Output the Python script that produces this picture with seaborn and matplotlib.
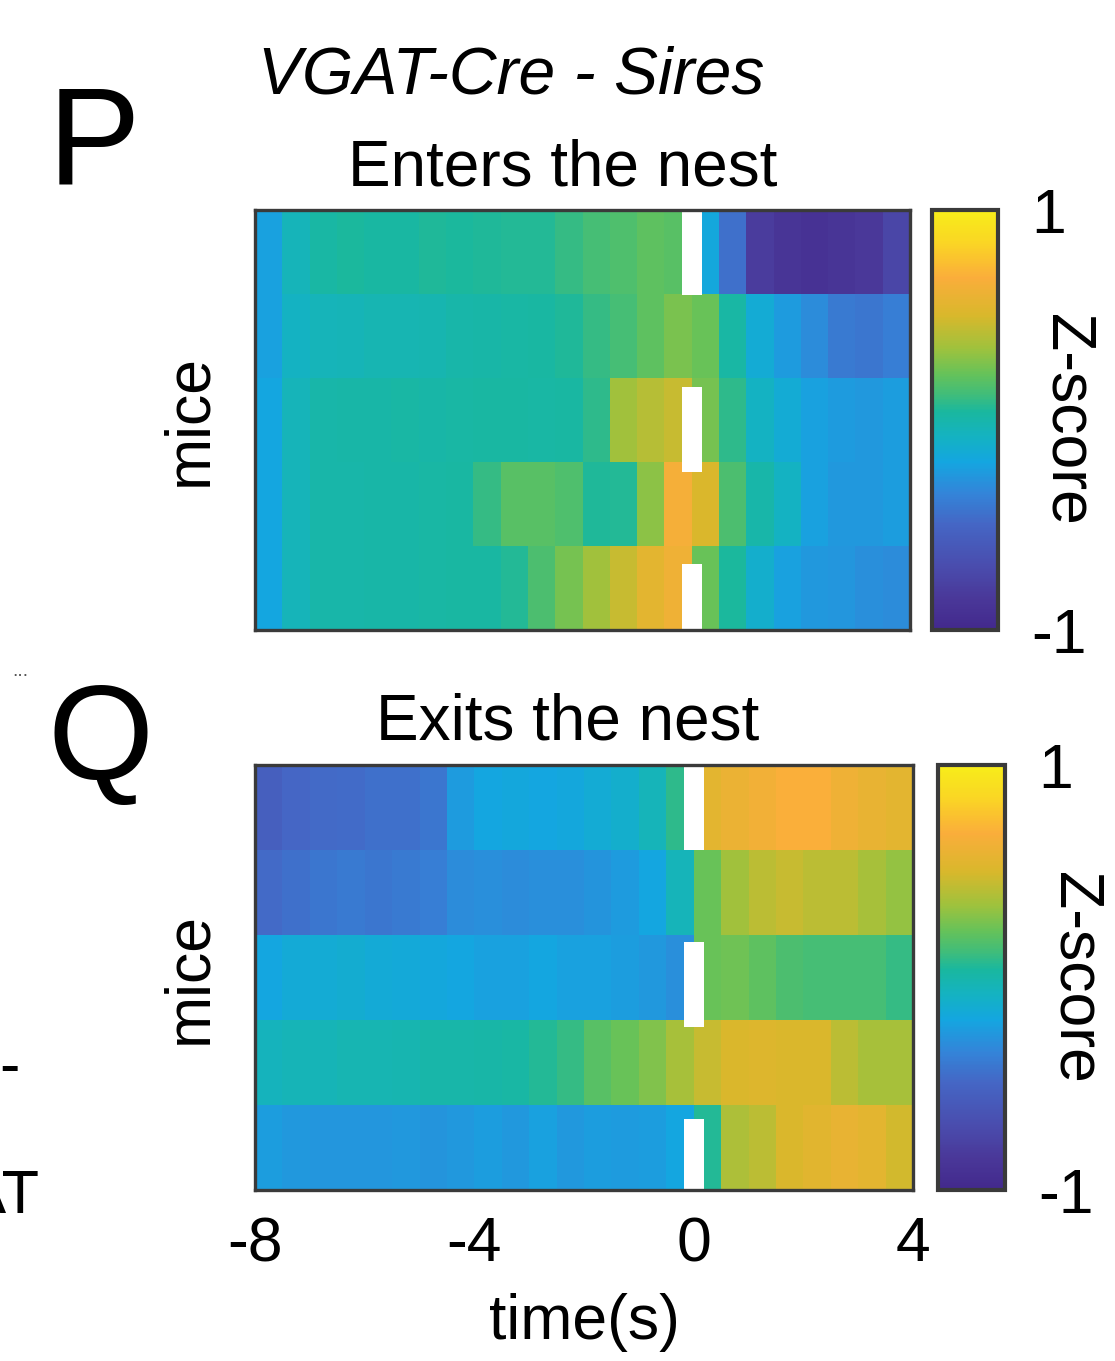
import numpy as np
import pandas as pd
import matplotlib
matplotlib.use("Agg")
import matplotlib.pyplot as plt
import seaborn as sns
from matplotlib.colors import LinearSegmentedColormap

# ---------------- data ----------------
t_start, t_end, dt = -8.0, 4.0, 0.5
time_bins = np.arange(t_start, t_end, dt)          # 24 time bins (left edges, s)
mice = ["m1", "m2", "m3", "m4", "m5"]
x_ticks = [-8, -4, 0, 4]
x_tick_labels = ["-8", "-4", "0", "4"]
cbar_ticks = [-1, 1]
cbar_tick_labels = ["-1", "1"]
event_time = 0.0

# P: Enters the nest (z-score per mouse, per 0.5 s bin)
enter_m1 = [-0.22, -0.05, 0.02, 0.04, 0.03, 0.03, 0.05, 0.04, 0.05, 0.06, 0.06, 0.10,
            0.14, 0.16, 0.20, 0.18, -0.18, -0.45, -0.82, -0.88, -0.90, -0.88, -0.85, -0.75]
enter_m2 = [-0.22, -0.08, -0.05, -0.04, -0.03, -0.03, -0.02, 0.00, 0.01, 0.02, 0.03, 0.05,
            0.10, 0.14, 0.20, 0.26, 0.22, 0.02, -0.15, -0.25, -0.32, -0.40, -0.42, -0.38]
enter_m3 = [-0.20, -0.05, 0.00, 0.01, 0.01, 0.02, 0.01, 0.02, 0.03, 0.03, 0.02, 0.03,
            0.08, 0.35, 0.40, 0.45, 0.25, 0.08, -0.08, -0.15, -0.22, -0.25, -0.26, -0.24]
enter_m4 = [-0.20, -0.05, 0.00, 0.00, 0.01, 0.01, 0.02, 0.03, 0.10, 0.18, 0.18, 0.16,
            0.05, 0.06, 0.30, 0.65, 0.50, 0.15, 0.00, -0.08, -0.22, -0.26, -0.26, -0.24]
enter_m5 = [-0.20, -0.05, 0.00, 0.00, 0.01, 0.01, 0.02, 0.03, 0.03, 0.06, 0.15, 0.25,
            0.35, 0.45, 0.55, 0.62, 0.22, 0.04, -0.12, -0.22, -0.26, -0.27, -0.30, -0.32]

# Q: Exits the nest
exit_m1 = [-0.55, -0.50, -0.48, -0.47, -0.45, -0.45, -0.42, -0.25, -0.20, -0.18, -0.20, -0.18,
           -0.15, -0.12, -0.05, 0.08, 0.55, 0.60, 0.64, 0.68, 0.68, 0.62, 0.58, 0.55]
exit_m2 = [-0.48, -0.45, -0.42, -0.40, -0.42, -0.40, -0.38, -0.32, -0.30, -0.32, -0.30, -0.30,
           -0.28, -0.25, -0.20, -0.05, 0.22, 0.35, 0.42, 0.45, 0.42, 0.42, 0.36, 0.32]
exit_m3 = [-0.20, -0.16, -0.15, -0.14, -0.16, -0.17, -0.18, -0.20, -0.22, -0.22, -0.20, -0.22,
           -0.22, -0.24, -0.26, -0.30, 0.22, 0.24, 0.20, 0.15, 0.14, 0.14, 0.14, 0.10]
exit_m4 = [-0.06, -0.04, -0.04, -0.03, -0.03, -0.02, 0.00, 0.00, 0.01, 0.02, 0.06, 0.10,
           0.18, 0.22, 0.28, 0.36, 0.45, 0.50, 0.52, 0.50, 0.50, 0.42, 0.36, 0.36]
exit_m5 = [-0.24, -0.26, -0.27, -0.27, -0.27, -0.26, -0.28, -0.26, -0.24, -0.26, -0.22, -0.26,
           -0.24, -0.25, -0.24, -0.20, 0.06, 0.38, 0.42, 0.50, 0.54, 0.58, 0.55, 0.48]

# colour scale (parula-like, as printed), anchors at z-score values
cmap_z = [-1.0, -0.85, -0.7, -0.5, -0.35, -0.2, -0.08, 0.04, 0.12, 0.22, 0.34, 0.5, 0.68, 0.85, 1.0]
cmap_rgb = [(0.26, 0.16, 0.55), (0.29, 0.22, 0.60), (0.29, 0.30, 0.68), (0.27, 0.40, 0.77),
            (0.20, 0.52, 0.85), (0.08, 0.65, 0.88), (0.08, 0.70, 0.76), (0.10, 0.72, 0.62),
            (0.25, 0.74, 0.48), (0.40, 0.76, 0.35), (0.62, 0.76, 0.24), (0.85, 0.72, 0.17),
            (0.98, 0.68, 0.23), (0.98, 0.84, 0.14), (0.97, 0.93, 0.10)]

# ---------------- style ----------------
plt.rcParams["font.family"] = ["Liberation Sans", "DejaVu Sans"]
plt.rcParams["axes.unicode_minus"] = False

parula = LinearSegmentedColormap.from_list(
    "parula_print", list(zip([(z + 1) / 2 for z in cmap_z], cmap_rgb)), N=256)

FS = 45
frame_col = "#3a3a3a"
W, H = 1115, 1361


def rect(l, t, r, b):
    return [l / W, 1 - b / H, (r - l) / W, (b - t) / H]


fig = plt.figure(figsize=(W / 100, H / 100), dpi=100)
fig.patch.set_facecolor("white")

axP = fig.add_axes(rect(255, 210, 910, 630))
caxP = fig.add_axes(rect(932, 210, 998, 630))
axQ = fig.add_axes(rect(255, 765, 913, 1190))
caxQ = fig.add_axes(rect(938, 765, 1005, 1190))


def draw(ax, cax, rows, title, title_x, show_x):
    df = pd.DataFrame(rows, index=mice, columns=time_bins)
    sns.heatmap(df, ax=ax, cmap=parula, vmin=-1, vmax=1, cbar_ax=cax,
                cbar_kws={"ticks": cbar_ticks}, xticklabels=False, yticklabels=False)
    n_cols = len(time_bins)
    ax.set_xlim(0, n_cols)
    ax.set_ylim(len(mice), 0)
    # event marker at t = 0
    x0 = (event_time - t_start) / dt
    ax.plot([x0, x0], [0, len(mice)], color="white", lw=14.4,
            ls=(0, (4.25, 4.6)), dash_capstyle="butt")
    for s in ax.spines.values():
        s.set_visible(True)
        s.set_linewidth(2.4)
        s.set_color(frame_col)
    ax.set_yticks([])
    ax.set_ylabel("mice", fontsize=FS, labelpad=26)
    ax.set_title(title, fontsize=46, pad=18, x=title_x)
    if show_x:
        ax.set_xticks([(v - t_start) / dt for v in x_ticks])
        ax.set_xticklabels(x_tick_labels, fontsize=FS)
        ax.tick_params(axis="x", length=0, pad=18)
        ax.set_xlabel("time(s)", fontsize=FS, labelpad=14)
    else:
        ax.set_xticks([])
        ax.set_xlabel("")
    cbar = ax.collections[0].colorbar
    cbar.outline.set_linewidth(3)
    cbar.outline.set_edgecolor(frame_col)
    cax.set_yticks(cbar_ticks)
    cax.set_yticklabels(cbar_tick_labels)
    cax.tick_params(length=0, pad=24, labelsize=FS)
    cax.text(2.05, 0.5, "Z-score", rotation=270, fontsize=FS, ha="center", va="center",
             transform=cax.transAxes)


draw(axP, caxP, [enter_m1, enter_m2, enter_m3, enter_m4, enter_m5],
     "Enters the nest", 0.47, False)
draw(axQ, caxQ, [exit_m1, exit_m2, exit_m3, exit_m4, exit_m5],
     "Exits the nest", 0.475, True)

# panel letters and header
fig.text(258 / W, 1 - 93 / H, "VGAT-Cre - Sires", fontsize=47.5, style="italic",
         ha="left", va="baseline")
fig.text(48 / W, 1 - 183 / H, "P", fontsize=100, ha="left", va="baseline")
fig.text(48 / W, 1 - 779 / H, "Q", fontsize=98, ha="left", va="baseline")

# fragments of the neighbouring panel at the left edge
fig.text(28 / W, 1 - 676 / H, "...", fontsize=14, ha="right", va="baseline", color="#555555")
fig.text(40 / W, 1 - 1213 / H, "VGAT", fontsize=44, ha="right", va="baseline")
fig.text(20 / W, 1 - 1085 / H, "-", fontsize=44, ha="right", va="baseline")

fig.savefig("out.png", dpi=100, facecolor="white")
